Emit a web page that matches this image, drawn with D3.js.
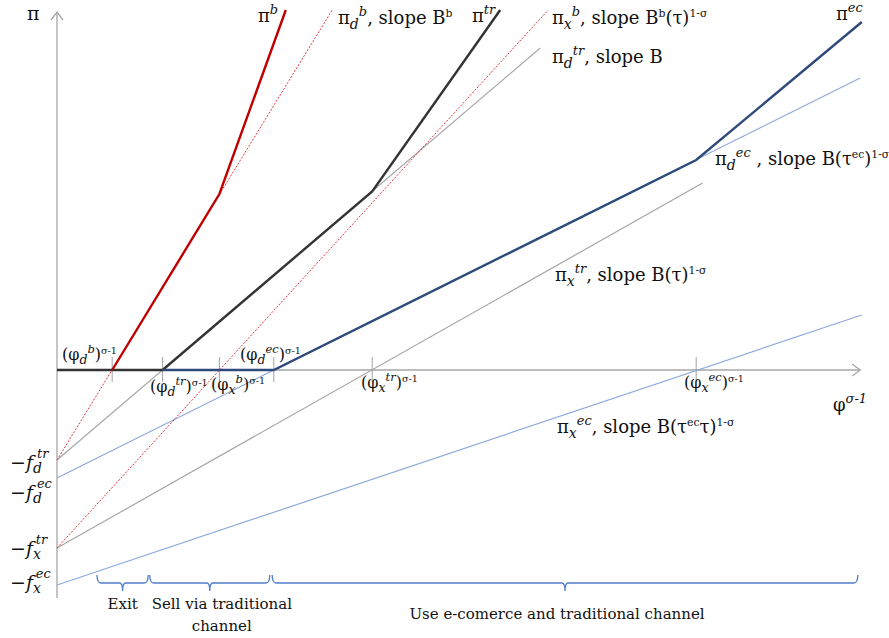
<!DOCTYPE html>
<html>
<head>
<meta charset="utf-8">
<script src="https://cdn.jsdelivr.net/npm/d3@7"></script>
<style>
  body { margin: 0; background: #fff; }
  text { font-family: "DejaVu Serif", "Liberation Serif", serif; fill: #111; }
</style>
</head>
<body>
<div id="chart"></div>
<script>
// x = phi^(sigma-1), y = profit pi (arbitrary units)
var cutoffs = [0.69, 1.32, 2.03, 2.71, 3.94, 7.99];

// straight profit lines [x, y]
var piDb  = [[0, -4.5], [3.44, 18]];
var piXb  = [[0, -8.9], [6.14, 18]];
var piDtr = [[0, -4.5], [6.04, 16.1]];
var piXtr = [[0, -8.9], [8.07, 9.35]];
var piDec = [[0, -5.4], [10.04, 14.6]];
var piXec = [[0, -10.75], [10.06, 2.75]];

// upper envelopes
var piB  = [[0.69, 0], [2.03, 8.8], [2.86, 18]];
var piTr = [[0, 0], [1.32, 0], [3.94, 8.93], [5.54, 18]];
var piEc = [[1.32, 0], [2.71, 0], [7.99, 10.5], [10.06, 17.4]];

var fixedCosts = [4.5, 5.4, 8.9, 10.75];
var fixedCostNames = [['d', 'tr'], ['d', 'ec'], ['x', 'tr'], ['x', 'ec']];

// regions under the axis: [from, to, mid]
var regions = [[0.5, 1.14, 0.82], [1.16, 2.66, 1.91], [2.69, 10.01, 6.35]];

(function () {
    'use strict';

    var width = 889, height = 638;
    var ox = 57, oy = 370;

    var x = d3.scaleLinear().domain([0, 1]).range([ox, ox + 80]);
    var y = d3.scaleLinear().domain([0, 1]).range([oy, oy - 20]);

    var svg = d3.select('#chart').append('svg')
        .attr('width', width)
        .attr('height', height);

    var line = d3.line()
        .x(function (d) { return x(d[0]); })
        .y(function (d) { return y(d[1]); });

    // axes
    var axisCol = '#a6a6a6';
    svg.append('line').attr('x1', x(0)).attr('y1', y(-11.4)).attr('x2', x(0)).attr('y2', y(17.9))
        .attr('stroke', axisCol).attr('stroke-width', 1.3);
    svg.append('path').attr('d', 'M' + (x(0) - 6) + ',' + (y(17.9) + 8) + 'L' + x(0) + ',' + y(17.9) + 'L' + (x(0) + 6) + ',' + (y(17.9) + 8))
        .attr('fill', 'none').attr('stroke', axisCol).attr('stroke-width', 1.3);
    svg.append('line').attr('x1', x(0)).attr('y1', y(0)).attr('x2', x(10.04)).attr('y2', y(0))
        .attr('stroke', axisCol).attr('stroke-width', 1.3);
    svg.append('path').attr('d', 'M' + (x(10.04) - 8) + ',' + (y(0) - 6) + 'L' + x(10.04) + ',' + y(0) + 'L' + (x(10.04) - 8) + ',' + (y(0) + 6))
        .attr('fill', 'none').attr('stroke', axisCol).attr('stroke-width', 1.3);

    // cutoff ticks
    svg.selectAll('.cut').data(cutoffs).enter().append('line')
        .attr('x1', function (d) { return x(d); })
        .attr('x2', function (d) { return x(d); })
        .attr('y1', oy - 13).attr('y2', oy + 12)
        .attr('stroke', '#8c8c8c').attr('stroke-width', 0.8);

    function draw(data, col, w, dash) {
        var p = svg.append('path').datum(data)
            .attr('d', line)
            .attr('fill', 'none')
            .attr('stroke', col)
            .attr('stroke-width', w);
        if (dash) p.attr('stroke-dasharray', dash);
    }

    draw(piXec, '#8eaadb', 1.2);
    draw(piDec, '#8eaadb', 1.2);
    draw(piXtr, '#a6a6a6', 1.2);
    draw(piDtr, '#a6a6a6', 1.2);
    draw(piXb, '#e0393e', 1, '2,1.5');
    draw(piDb, '#e0393e', 1, '2,1.5');
    draw(piTr, '#333333', 2.4);
    draw(piEc, '#2f4a7c', 2.4);
    draw(piB, '#c00000', 2.4);

    // label helper: parts = [[text, kind]]
    function label(px, py, parts, opts) {
        opts = opts || {};
        var size = opts.size || 16;
        var t = svg.append('text').attr('x', px).attr('y', py)
            .attr('font-size', size);
        if (opts.anchor) t.attr('text-anchor', opts.anchor);
        var base = 0;
        parts.forEach(function (p) {
            var s = t.append('tspan').text(p[0]);
            var shift = 0, fs = null, it = null;
            if (p[1] === 'sub') { shift = size * 0.25; fs = size * 0.78; it = 'italic'; }
            else if (p[1] === 'sup') { shift = -size * 0.42; fs = size * 0.72; it = 'italic'; }
            else if (p[1] === 'sups') { shift = -size * 0.4; fs = size * 0.6; }
            else if (p[1] === 'subsup') { shift = -size * 0.45; fs = size * 0.72; it = 'italic'; }
            s.attr('dy', shift - base);
            base = shift;
            if (fs) s.attr('font-size', fs);
            if (it) s.attr('font-style', it);
        });
        return t;
    }

    // axis titles
    label(27, 20, [['π', '']], { size: 19 });
    label(833, 411, [['φ', ''], ['σ-1', 'sup']], { size: 18 });

    // line labels
    label(258, 22, [['π', ''], ['b', 'sup']], { size: 18 });
    label(338, 24, [['π', ''], ['d', 'sub'], ['b', 'subsup'], [', slope B', ''], ['b', 'sups']], { size: 18 });
    label(472, 22, [['π', ''], ['tr', 'sup']], { size: 18 });
    label(552, 24, [['π', ''], ['x', 'sub'], ['b', 'subsup'], [', slope B', ''], ['b', 'sups'], ['(τ)', ''], ['1-σ', 'sups']], { size: 18 });
    label(552, 63, [['π', ''], ['d', 'sub'], ['tr', 'subsup'], [', slope B', '']], { size: 18 });
    label(836, 20, [['π', ''], ['ec', 'sup']], { size: 18 });
    label(715, 165, [['π', ''], ['d', 'sub'], ['ec', 'subsup'], [' , slope B(τ', ''], ['ec', 'sups'], [')', ''], ['1-σ', 'sups']], { size: 18 });
    label(555, 281, [['π', ''], ['x', 'sub'], ['tr', 'subsup'], [', slope B(τ)', ''], ['1-σ', 'sups']], { size: 18 });
    label(557, 433, [['π', ''], ['x', 'sub'], ['ec', 'subsup'], [', slope B(τ', ''], ['ec', 'sups'], ['τ)', ''], ['1-σ', 'sups']], { size: 18 });

    // cutoff labels
    label(62, 360, [['(φ', ''], ['d', 'sub'], ['b', 'subsup'], [')', ''], ['σ-1', 'sups']], { size: 16 });
    label(150, 392, [['(φ', ''], ['d', 'sub'], ['tr', 'subsup'], [')', ''], ['σ-1', 'sups']], { size: 16 });
    label(211, 390, [['(φ', ''], ['x', 'sub'], ['b', 'subsup'], [')', ''], ['σ-1', 'sups']], { size: 16 });
    label(240, 360, [['(φ', ''], ['d', 'sub'], ['ec', 'subsup'], [')', ''], ['σ-1', 'sups']], { size: 16 });
    label(361, 388, [['(φ', ''], ['x', 'sub'], ['tr', 'subsup'], [')', ''], ['σ-1', 'sups']], { size: 16 });
    label(684, 388, [['(φ', ''], ['x', 'sub'], ['ec', 'subsup'], [')', ''], ['σ-1', 'sups']], { size: 16 });

    // fixed cost labels on the y axis
    var fBaseline = [469, 499, 555, 589];
    fixedCosts.forEach(function (f, i) {
        var t = svg.append('text').attr('x', 10).attr('y', fBaseline[i])
            .attr('font-size', 19).attr('font-style', 'italic');
        t.append('tspan').text('−f');
        t.append('tspan').text(fixedCostNames[i][0]).attr('font-size', 14).attr('dy', 4);
        t.append('tspan').text(fixedCostNames[i][1]).attr('font-size', 13).attr('dy', -15).attr('dx', -5);
    });

    // region braces
    var braceCol = '#4f7fc8';
    var by = 583;
    regions.forEach(function (r) {
        var x0 = x(r[0]), x1 = x(r[1]), xm = x(r[2]);
        svg.append('path')
            .attr('d', 'M' + x0 + ',' + (by - 8) + 'Q' + x0 + ',' + by + ' ' + (x0 + 4) + ',' + by +
                'L' + (xm - 3) + ',' + by + 'Q' + xm + ',' + by + ' ' + xm + ',' + (by + 8) +
                'Q' + xm + ',' + by + ' ' + (xm + 3) + ',' + by +
                'L' + (x1 - 4) + ',' + by + 'Q' + x1 + ',' + by + ' ' + x1 + ',' + (by - 8))
            .attr('fill', 'none').attr('stroke', braceCol).attr('stroke-width', 1.3);
    });

    label(x(regions[0][2]), 609, [['Exit', '']], { anchor: 'middle', size: 15 });
    label(x(regions[1][2]) + 12, 609, [['Sell via traditional', '']], { anchor: 'middle', size: 15 });
    label(x(regions[1][2]) + 12, 631, [['channel', '']], { anchor: 'middle', size: 15 });
    label(x(regions[2][2]) - 8, 619, [['Use e-comerce and traditional channel', '']], { anchor: 'middle', size: 15 });
})();
</script>
</body>
</html>
